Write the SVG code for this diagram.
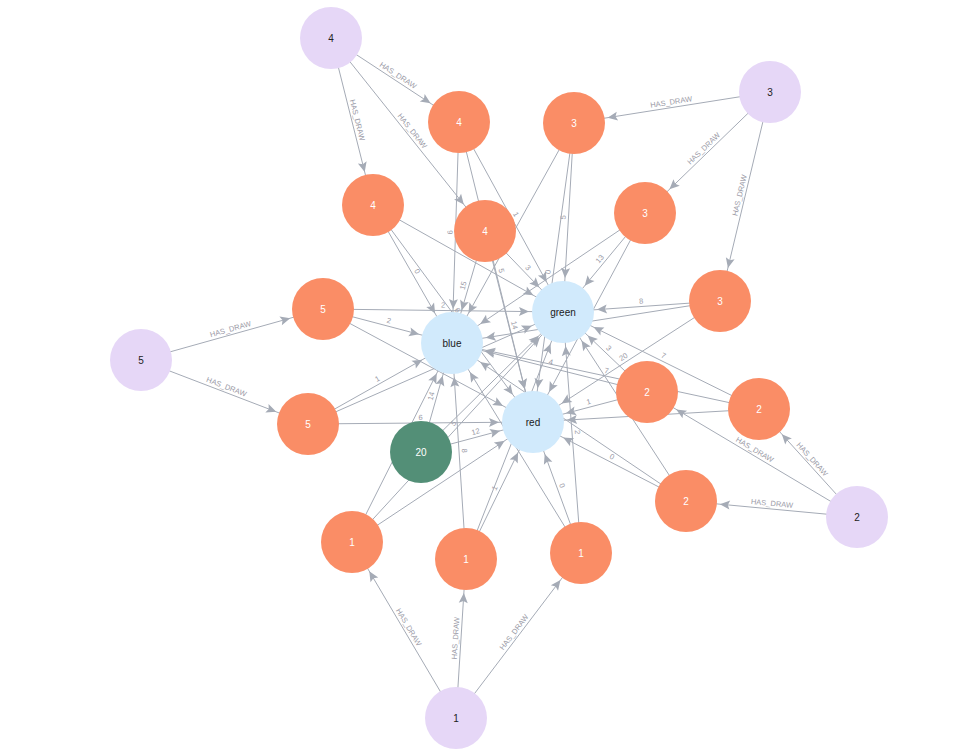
<svg xmlns="http://www.w3.org/2000/svg" width="978" height="755" viewBox="0 0 978 755">
<style>
.e{stroke:#A5ABB6;stroke-width:1;fill:none;marker-end:url(#arr)}
.el{font-family:"Liberation Sans",Arial,sans-serif;font-size:7.5px;fill:#9a9aa6}
.nt{font-family:"Liberation Sans",Arial,sans-serif;font-size:10px;text-anchor:middle;dominant-baseline:central}
.p circle{fill:#E6D7F7}
.p text{fill:#222}
.o circle{fill:#FA8D66}
.o text{fill:#fff}
.c circle{fill:#D1EAFC}
.c text{fill:#1a1a1a}
.g circle{fill:#538F77}
.g text{fill:#fff}
</style>
<defs>
<marker id="arr" markerUnits="userSpaceOnUse" markerWidth="12" markerHeight="10" refX="34" refY="0" orient="auto" overflow="visible"><path d="M0,0 L-10,-4.5 L-8,0 L-10,4.5 Z" fill="#A5ABB6"/></marker>
<path id="h1" d="M331,38 L459,122"/>
<path id="h2" d="M331,38 L373,205"/>
<path id="h3" d="M331,38 L485,231"/>
<path id="h4" d="M574,123 L770,92"/>
<path id="h5" d="M645,213 L770,92"/>
<path id="h6" d="M720,301 L770,92"/>
<path id="h7" d="M141,360 L323,309"/>
<path id="h8" d="M141,360 L308,424"/>
<path id="h9" d="M647,392 L857,517"/>
<path id="h10" d="M759,409 L857,517"/>
<path id="h11" d="M686,501 L857,517"/>
<path id="h12" d="M352,542 L456,718"/>
<path id="h13" d="M456,718 L466,559"/>
<path id="h14" d="M456,718 L581,553"/>
<path id="l1" d="M452,343 L459,122"/>
<path id="l2" d="M459,122 L563,312"/>
<path id="l3" d="M459,122 L533,422"/>
<path id="l4" d="M373,205 L452,343"/>
<path id="l5" d="M373,205 L533,422"/>
<path id="l6" d="M452,343 L485,231"/>
<path id="l7" d="M485,231 L563,312"/>
<path id="l8" d="M485,231 L533,422"/>
<path id="l9" d="M563,312 L574,123"/>
<path id="l10" d="M533,422 L574,123"/>
<path id="l11" d="M563,312 L645,213"/>
<path id="l12" d="M563,312 L720,301"/>
<path id="l13" d="M533,422 L720,301"/>
<path id="l14" d="M323,309 L452,343"/>
<path id="l15" d="M323,309 L563,312"/>
<path id="l16" d="M308,424 L452,343"/>
<path id="l17" d="M308,424 L533,422"/>
<path id="l18" d="M421,452 L452,343"/>
<path id="l19" d="M421,452 L533,422"/>
<path id="l20" d="M352,542 L563,312"/>
<path id="l21" d="M452,343 L466,559"/>
<path id="l22" d="M466,559 L533,422"/>
<path id="l23" d="M563,312 L581,553"/>
<path id="l24" d="M533,422 L581,553"/>
<path id="l25" d="M452,343 L647,392"/>
<path id="l26" d="M563,312 L647,392"/>
<path id="l27" d="M533,422 L647,392"/>
<path id="l28" d="M452,343 L759,409"/>
<path id="l29" d="M563,312 L759,409"/>
<path id="l30" d="M533,422 L686,501"/>
</defs>
<rect width="978" height="755" fill="#ffffff"/>
<g id="connectors">
<line class="e" x1="331" y1="38" x2="459" y2="122"/>
<line class="e" x1="331" y1="38" x2="373" y2="205"/>
<line class="e" x1="331" y1="38" x2="485" y2="231"/>
<line class="e" x1="770" y1="92" x2="574" y2="123"/>
<line class="e" x1="770" y1="92" x2="645" y2="213"/>
<line class="e" x1="770" y1="92" x2="720" y2="301"/>
<line class="e" x1="141" y1="360" x2="323" y2="309"/>
<line class="e" x1="141" y1="360" x2="308" y2="424"/>
<line class="e" x1="857" y1="517" x2="647" y2="392"/>
<line class="e" x1="857" y1="517" x2="759" y2="409"/>
<line class="e" x1="857" y1="517" x2="686" y2="501"/>
<line class="e" x1="456" y1="718" x2="352" y2="542"/>
<line class="e" x1="456" y1="718" x2="466" y2="559"/>
<line class="e" x1="456" y1="718" x2="581" y2="553"/>
<line class="e" x1="459" y1="122" x2="452" y2="343"/>
<line class="e" x1="459" y1="122" x2="563" y2="312"/>
<line class="e" x1="459" y1="122" x2="533" y2="422"/>
<line class="e" x1="373" y1="205" x2="452" y2="343"/>
<line class="e" x1="373" y1="205" x2="563" y2="312"/>
<line class="e" x1="373" y1="205" x2="533" y2="422"/>
<line class="e" x1="485" y1="231" x2="452" y2="343"/>
<line class="e" x1="485" y1="231" x2="563" y2="312"/>
<line class="e" x1="485" y1="231" x2="533" y2="422"/>
<line class="e" x1="574" y1="123" x2="452" y2="343"/>
<line class="e" x1="574" y1="123" x2="563" y2="312"/>
<line class="e" x1="574" y1="123" x2="533" y2="422"/>
<line class="e" x1="645" y1="213" x2="452" y2="343"/>
<line class="e" x1="645" y1="213" x2="563" y2="312"/>
<line class="e" x1="645" y1="213" x2="533" y2="422"/>
<line class="e" x1="720" y1="301" x2="452" y2="343"/>
<line class="e" x1="720" y1="301" x2="563" y2="312"/>
<line class="e" x1="720" y1="301" x2="533" y2="422"/>
<line class="e" x1="323" y1="309" x2="452" y2="343"/>
<line class="e" x1="323" y1="309" x2="563" y2="312"/>
<line class="e" x1="323" y1="309" x2="533" y2="422"/>
<line class="e" x1="308" y1="424" x2="452" y2="343"/>
<line class="e" x1="308" y1="424" x2="563" y2="312"/>
<line class="e" x1="308" y1="424" x2="533" y2="422"/>
<line class="e" x1="421" y1="452" x2="452" y2="343"/>
<line class="e" x1="421" y1="452" x2="563" y2="312"/>
<line class="e" x1="421" y1="452" x2="533" y2="422"/>
<line class="e" x1="352" y1="542" x2="452" y2="343"/>
<line class="e" x1="352" y1="542" x2="563" y2="312"/>
<line class="e" x1="352" y1="542" x2="533" y2="422"/>
<line class="e" x1="466" y1="559" x2="452" y2="343"/>
<line class="e" x1="466" y1="559" x2="563" y2="312"/>
<line class="e" x1="466" y1="559" x2="533" y2="422"/>
<line class="e" x1="581" y1="553" x2="452" y2="343"/>
<line class="e" x1="581" y1="553" x2="563" y2="312"/>
<line class="e" x1="581" y1="553" x2="533" y2="422"/>
<line class="e" x1="647" y1="392" x2="452" y2="343"/>
<line class="e" x1="647" y1="392" x2="563" y2="312"/>
<line class="e" x1="647" y1="392" x2="533" y2="422"/>
<line class="e" x1="759" y1="409" x2="452" y2="343"/>
<line class="e" x1="759" y1="409" x2="563" y2="312"/>
<line class="e" x1="759" y1="409" x2="533" y2="422"/>
<line class="e" x1="686" y1="501" x2="452" y2="343"/>
<line class="e" x1="686" y1="501" x2="563" y2="312"/>
<line class="e" x1="686" y1="501" x2="533" y2="422"/>
<text class="el" dy="-3"><textPath href="#h1" startOffset="50%" text-anchor="middle">HAS_DRAW</textPath></text>
<text class="el" dy="-3"><textPath href="#h2" startOffset="50%" text-anchor="middle">HAS_DRAW</textPath></text>
<text class="el" dy="-3"><textPath href="#h3" startOffset="50%" text-anchor="middle">HAS_DRAW</textPath></text>
<text class="el" dy="-3"><textPath href="#h4" startOffset="50%" text-anchor="middle">HAS_DRAW</textPath></text>
<text class="el" dy="-3"><textPath href="#h5" startOffset="50%" text-anchor="middle">HAS_DRAW</textPath></text>
<text class="el" dy="-3"><textPath href="#h6" startOffset="50%" text-anchor="middle">HAS_DRAW</textPath></text>
<text class="el" dy="-3"><textPath href="#h7" startOffset="50%" text-anchor="middle">HAS_DRAW</textPath></text>
<text class="el" dy="-3"><textPath href="#h8" startOffset="50%" text-anchor="middle">HAS_DRAW</textPath></text>
<text class="el" dy="-3"><textPath href="#h9" startOffset="50%" text-anchor="middle">HAS_DRAW</textPath></text>
<text class="el" dy="-3"><textPath href="#h10" startOffset="50%" text-anchor="middle">HAS_DRAW</textPath></text>
<text class="el" dy="-3"><textPath href="#h11" startOffset="50%" text-anchor="middle">HAS_DRAW</textPath></text>
<text class="el" dy="-3"><textPath href="#h12" startOffset="50%" text-anchor="middle">HAS_DRAW</textPath></text>
<text class="el" dy="-3"><textPath href="#h13" startOffset="50%" text-anchor="middle">HAS_DRAW</textPath></text>
<text class="el" dy="-3"><textPath href="#h14" startOffset="50%" text-anchor="middle">HAS_DRAW</textPath></text>
<text class="el" dy="-3"><textPath href="#l1" startOffset="50%" text-anchor="middle">6</textPath></text>
<text class="el" dy="-3"><textPath href="#l2" startOffset="50%" text-anchor="middle">1</textPath></text>
<text class="el" dy="-3"><textPath href="#l3" startOffset="50%" text-anchor="middle">5</textPath></text>
<text class="el" dy="-3"><textPath href="#l4" startOffset="50%" text-anchor="middle">0</textPath></text>
<text class="el" dy="-3"><textPath href="#l5" startOffset="50%" text-anchor="middle">6</textPath></text>
<text class="el" dy="-3"><textPath href="#l6" startOffset="50%" text-anchor="middle">15</textPath></text>
<text class="el" dy="-3"><textPath href="#l7" startOffset="50%" text-anchor="middle">3</textPath></text>
<text class="el" dy="-3"><textPath href="#l8" startOffset="50%" text-anchor="middle">14</textPath></text>
<text class="el" dy="-3"><textPath href="#l9" startOffset="50%" text-anchor="middle">5</textPath></text>
<text class="el" dy="-3"><textPath href="#l10" startOffset="50%" text-anchor="middle">0</textPath></text>
<text class="el" dy="-3"><textPath href="#l11" startOffset="50%" text-anchor="middle">13</textPath></text>
<text class="el" dy="-3"><textPath href="#l12" startOffset="50%" text-anchor="middle">8</textPath></text>
<text class="el" dy="-3"><textPath href="#l13" startOffset="50%" text-anchor="middle">20</textPath></text>
<text class="el" dy="-3"><textPath href="#l14" startOffset="50%" text-anchor="middle">2</textPath></text>
<text class="el" dy="-3"><textPath href="#l15" startOffset="50%" text-anchor="middle">2</textPath></text>
<text class="el" dy="-3"><textPath href="#l16" startOffset="50%" text-anchor="middle">1</textPath></text>
<text class="el" dy="-3"><textPath href="#l17" startOffset="50%" text-anchor="middle">6</textPath></text>
<text class="el" dy="-3"><textPath href="#l18" startOffset="50%" text-anchor="middle">14</textPath></text>
<text class="el" dy="-3"><textPath href="#l19" startOffset="50%" text-anchor="middle">12</textPath></text>
<text class="el" dy="-3"><textPath href="#l20" startOffset="50%" text-anchor="middle">5</textPath></text>
<text class="el" dy="-3"><textPath href="#l21" startOffset="50%" text-anchor="middle">8</textPath></text>
<text class="el" dy="-3"><textPath href="#l22" startOffset="50%" text-anchor="middle">1</textPath></text>
<text class="el" dy="-3"><textPath href="#l23" startOffset="50%" text-anchor="middle">2</textPath></text>
<text class="el" dy="-3"><textPath href="#l24" startOffset="50%" text-anchor="middle">0</textPath></text>
<text class="el" dy="-3"><textPath href="#l25" startOffset="50%" text-anchor="middle">4</textPath></text>
<text class="el" dy="-3"><textPath href="#l26" startOffset="50%" text-anchor="middle">3</textPath></text>
<text class="el" dy="-3"><textPath href="#l27" startOffset="50%" text-anchor="middle">1</textPath></text>
<text class="el" dy="-3"><textPath href="#l28" startOffset="50%" text-anchor="middle">7</textPath></text>
<text class="el" dy="-3"><textPath href="#l29" startOffset="50%" text-anchor="middle">7</textPath></text>
<text class="el" dy="-3"><textPath href="#l30" startOffset="50%" text-anchor="middle">0</textPath></text>
</g>
<g id="nodes">
<g id="draw4" class="p"><circle cx="331" cy="38" r="31"/><text class="nt" x="331" y="38">4</text></g>
<g id="draw3" class="p"><circle cx="770" cy="92" r="31"/><text class="nt" x="770" y="92">3</text></g>
<g id="draw5" class="p"><circle cx="141" cy="360" r="31"/><text class="nt" x="141" y="360">5</text></g>
<g id="draw2" class="p"><circle cx="857" cy="517" r="31"/><text class="nt" x="857" y="517">2</text></g>
<g id="draw1" class="p"><circle cx="456" cy="718" r="31"/><text class="nt" x="456" y="718">1</text></g>
<g id="o4a" class="o"><circle cx="459" cy="122" r="31"/><text class="nt" x="459" y="122">4</text></g>
<g id="o4b" class="o"><circle cx="373" cy="205" r="31"/><text class="nt" x="373" y="205">4</text></g>
<g id="o4c" class="o"><circle cx="485" cy="231" r="31"/><text class="nt" x="485" y="231">4</text></g>
<g id="o3a" class="o"><circle cx="574" cy="123" r="31"/><text class="nt" x="574" y="123">3</text></g>
<g id="o3b" class="o"><circle cx="645" cy="213" r="31"/><text class="nt" x="645" y="213">3</text></g>
<g id="o3c" class="o"><circle cx="720" cy="301" r="31"/><text class="nt" x="720" y="301">3</text></g>
<g id="o5a" class="o"><circle cx="323" cy="309" r="31"/><text class="nt" x="323" y="309">5</text></g>
<g id="o5b" class="o"><circle cx="308" cy="424" r="31"/><text class="nt" x="308" y="424">5</text></g>
<g id="o2a" class="o"><circle cx="647" cy="392" r="31"/><text class="nt" x="647" y="392">2</text></g>
<g id="o2b" class="o"><circle cx="759" cy="409" r="31"/><text class="nt" x="759" y="409">2</text></g>
<g id="o2c" class="o"><circle cx="686" cy="501" r="31"/><text class="nt" x="686" y="501">2</text></g>
<g id="o1a" class="o"><circle cx="352" cy="542" r="31"/><text class="nt" x="352" y="542">1</text></g>
<g id="o1b" class="o"><circle cx="466" cy="559" r="31"/><text class="nt" x="466" y="559">1</text></g>
<g id="o1c" class="o"><circle cx="581" cy="553" r="31"/><text class="nt" x="581" y="553">1</text></g>
<g id="n20" class="g"><circle cx="421" cy="452" r="31"/><text class="nt" x="421" y="452">20</text></g>
<g id="blue" class="c"><circle cx="452" cy="343" r="31"/><text class="nt" x="452" y="343">blue</text></g>
<g id="green" class="c"><circle cx="563" cy="312" r="31"/><text class="nt" x="563" y="312">green</text></g>
<g id="red" class="c"><circle cx="533" cy="422" r="31"/><text class="nt" x="533" y="422">red</text></g>
</g>
</svg>
